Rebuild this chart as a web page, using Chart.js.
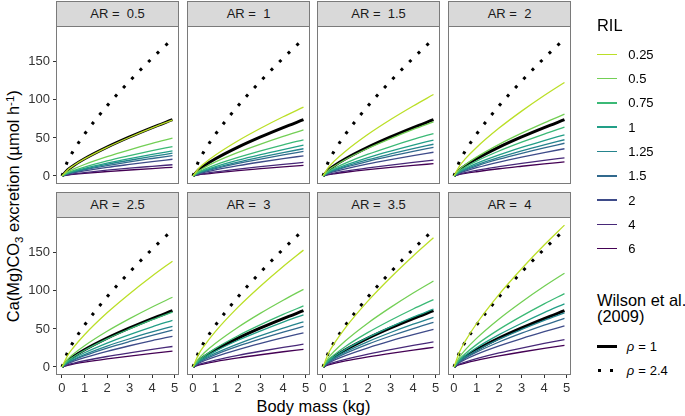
<!DOCTYPE html>
<html>
<head>
<meta charset="utf-8">
<script src="https://cdn.jsdelivr.net/npm/chart.js@4.4.1/dist/chart.umd.min.js"></script>
<style>
  body { margin: 0; width: 685px; height: 416px; position: relative; overflow: hidden; background: #fff;
         font-family: "Liberation Sans", Arial, sans-serif; }
  canvas { position: absolute; }
  .strip { position: absolute; box-sizing: border-box; background: #d9d9d9; border: 1px solid #7a7a7a;
           text-align: center; font-size: 13px; line-height: 24px; color: #1a1a1a; white-space: pre; }
  .txt { position: absolute; white-space: nowrap; }
  .key { position: absolute; }
  #ytitle { position: absolute; width: 300px; text-align: center; font-size: 16.4px; line-height: 16.4px;
            transform: rotate(-90deg); color: #000; }
  #ytitle sub, #ytitle sup { font-size: 70%; vertical-align: 0; position: relative; }
  #ytitle sub { top: 0.35em; }
  #ytitle sup { top: -0.45em; }
</style>
</head>
<body>
<div id="ytitle">Ca(Mg)CO<sub>3</sub> excretion (µmol h<sup>-1</sup>)</div>
<div class="txt" id="xtitle" style="font-size:16.4px;line-height:16.4px;left:0;width:627px;text-align:center;top:398px;">Body mass (kg)</div>
<script>
const massKg = [0, 0.25, 0.5, 1, 2, 3, 4, 4.9];

const arLevels = ["0.5", "1", "1.5", "2", "2.5", "3", "3.5", "4"];
const rilLevels = ["0.25", "0.5", "0.75", "1", "1.25", "1.5", "2", "4", "6"];
const rilColors = ["#BBDF27", "#73CF55", "#3BB976", "#229F87", "#25848D", "#31698D", "#3E4B89", "#472878", "#440154"];

// Wilson et al. (2009) reference curves
const wilsonRho1 = [0, 8.0, 13.5, 22.6, 37.9, 51.3, 63.6, 74.0];
const wilsonRho24 = [0, 19.4, 32.8, 54.9, 92.2, 124.7, 154.8, 180.0];

// one row per RIL level (0.25 ... 6), per aspect ratio panel
const ar05 = [
  [0, 7.9, 13.4, 22.4, 37.6, 50.9, 63.2, 73.5],
  [0, 5.4, 9.0, 15.1, 25.4, 34.4, 42.7, 49.6],
  [0, 4.2, 7.0, 11.8, 19.8, 26.7, 33.2, 38.6],
  [0, 3.6, 6.0, 10.0, 16.8, 22.8, 28.3, 32.9],
  [0, 3.2, 5.4, 9.1, 15.3, 20.7, 25.7, 29.9],
  [0, 2.9, 4.9, 8.2, 13.7, 18.6, 23.0, 26.8],
  [0, 2.4, 4.0, 6.7, 11.3, 15.2, 18.9, 22.0],
  [0, 1.6, 2.7, 4.5, 7.6, 10.3, 12.7, 14.8],
  [0, 1.2, 2.1, 3.5, 5.8, 7.9, 9.8, 11.4]
];
const ar1 = [
  [0, 9.8, 16.5, 27.6, 46.3, 62.7, 77.8, 90.5],
  [0, 6.5, 11.0, 18.5, 31.0, 41.9, 52.0, 60.5],
  [0, 5.1, 8.6, 14.5, 24.3, 32.9, 40.9, 47.5],
  [0, 4.4, 7.4, 12.3, 20.7, 28.0, 34.7, 40.4],
  [0, 3.9, 6.5, 10.9, 18.3, 24.8, 30.8, 35.8],
  [0, 3.5, 5.9, 9.8, 16.5, 22.3, 27.7, 32.2],
  [0, 2.9, 4.8, 8.1, 13.6, 18.4, 22.8, 26.5],
  [0, 1.9, 3.2, 5.4, 9.1, 12.3, 15.3, 17.8],
  [0, 1.5, 2.5, 4.2, 7.1, 9.6, 12.0, 13.9]
];
const ar15 = [
  [0, 11.6, 19.5, 32.6, 54.8, 74.2, 92.0, 107.0],
  [0, 7.7, 12.9, 21.7, 36.4, 49.2, 61.1, 71.0],
  [0, 6.0, 10.2, 17.0, 28.6, 38.7, 48.0, 55.8],
  [0, 5.1, 8.6, 14.4, 24.2, 32.7, 40.6, 47.2],
  [0, 4.5, 7.6, 12.7, 21.4, 28.9, 35.9, 41.7],
  [0, 4.1, 6.8, 11.5, 19.3, 26.1, 32.3, 37.6],
  [0, 3.4, 5.7, 9.5, 16.0, 21.6, 26.8, 31.2],
  [0, 2.2, 3.8, 6.3, 10.6, 14.4, 17.9, 20.8],
  [0, 1.7, 2.9, 4.9, 8.3, 11.2, 13.9, 16.2]
];
const ar2 = [
  [0, 13.3, 22.4, 37.5, 62.9, 85.2, 105.7, 122.9],
  [0, 8.8, 14.8, 24.8, 41.6, 56.3, 69.8, 81.2],
  [0, 6.9, 11.7, 19.6, 32.8, 44.4, 55.1, 64.1],
  [0, 5.8, 9.8, 16.5, 27.7, 37.5, 46.5, 54.1],
  [0, 5.1, 8.7, 14.5, 24.4, 33.0, 40.9, 47.6],
  [0, 4.6, 7.8, 13.1, 22.0, 29.8, 37.0, 43.0],
  [0, 3.9, 6.5, 10.9, 18.3, 24.8, 30.8, 35.8],
  [0, 2.6, 4.3, 7.3, 12.2, 16.6, 20.6, 23.9],
  [0, 2.0, 3.4, 5.6, 9.5, 12.8, 15.9, 18.5]
];
const ar25 = [
  [0, 15.0, 25.3, 42.4, 71.2, 96.3, 119.5, 139.0],
  [0, 9.9, 16.7, 27.9, 46.9, 63.5, 78.8, 91.6],
  [0, 7.8, 13.1, 22.0, 37.0, 50.0, 62.1, 72.2],
  [0, 6.6, 11.2, 18.7, 31.4, 42.5, 52.7, 61.3],
  [0, 5.8, 9.7, 16.3, 27.4, 37.1, 46.0, 53.5],
  [0, 5.2, 8.8, 14.8, 24.8, 33.5, 41.6, 48.4],
  [0, 4.4, 7.3, 12.3, 20.6, 27.9, 34.7, 40.3],
  [0, 2.9, 4.9, 8.2, 13.8, 18.6, 23.1, 26.9],
  [0, 2.2, 3.8, 6.3, 10.6, 14.4, 17.9, 20.8]
];
const ar3 = [
  [0, 16.6, 27.9, 46.8, 78.6, 106.4, 132.0, 153.5],
  [0, 11.0, 18.6, 31.1, 52.2, 70.7, 87.7, 102.0],
  [0, 8.7, 14.6, 24.5, 41.1, 55.6, 69.0, 80.2],
  [0, 7.4, 12.5, 20.9, 35.1, 47.5, 59.0, 68.6],
  [0, 6.4, 10.8, 18.1, 30.4, 41.2, 51.1, 59.4],
  [0, 5.8, 9.7, 16.3, 27.3, 36.9, 45.8, 53.3],
  [0, 4.8, 8.2, 13.7, 22.9, 31.0, 38.5, 44.8],
  [0, 3.2, 5.4, 9.1, 15.3, 20.7, 25.7, 29.9],
  [0, 2.5, 4.2, 7.1, 11.9, 16.1, 20.0, 23.2]
];
const ar35 = [
  [0, 18.3, 30.9, 51.8, 86.9, 117.6, 145.9, 169.7],
  [0, 12.2, 20.6, 34.5, 57.9, 78.3, 97.2, 113.0],
  [0, 9.6, 16.1, 27.0, 45.4, 61.4, 76.2, 88.6],
  [0, 8.2, 13.8, 23.2, 38.9, 52.7, 65.4, 76.0],
  [0, 7.1, 11.9, 19.9, 33.4, 45.3, 56.2, 65.3],
  [0, 6.3, 10.7, 17.9, 30.1, 40.7, 50.5, 58.7],
  [0, 5.3, 9.0, 15.0, 25.2, 34.2, 42.4, 49.3],
  [0, 3.6, 6.0, 10.0, 16.8, 22.8, 28.3, 32.9],
  [0, 2.8, 4.7, 7.9, 13.2, 17.9, 22.2, 25.8]
];
const ar4 = [
  [0, 20.1, 33.9, 56.8, 95.4, 129.1, 160.2, 186.3],
  [0, 13.3, 22.4, 37.6, 63.1, 85.4, 106.0, 123.2],
  [0, 10.4, 17.5, 29.4, 49.4, 66.8, 82.9, 96.4],
  [0, 9.0, 15.1, 25.3, 42.5, 57.5, 71.4, 83.0],
  [0, 7.7, 13.0, 21.7, 36.5, 49.3, 61.2, 71.2],
  [0, 6.9, 11.6, 19.5, 32.8, 44.4, 55.0, 64.0],
  [0, 5.8, 9.8, 16.5, 27.6, 37.4, 46.4, 54.0],
  [0, 3.9, 6.5, 10.9, 18.4, 24.9, 30.9, 35.9],
  [0, 3.1, 5.2, 8.7, 14.5, 19.7, 24.4, 28.4]
];

const xTicks = [0, 1, 2, 3, 4, 5];
const yTicks = [0, 50, 100, 150];

const panels = [ar05, ar1, ar15, ar2, ar25, ar3, ar35, ar4];

// layout (px)
const colLeft = [57, 188, 318, 449];
const rowTop = [27, 218];
const stripTop = [1, 192];
const PW = 121, PH = 156, PAD = 8, YAXW = 49, XAXH = 28;

Chart.defaults.font.family = '"Liberation Sans", Arial, sans-serif';

const panelBorder = {
  id: 'panelBorder',
  afterDatasetsDraw(chart) {
    const { ctx, chartArea: a } = chart;
    ctx.save();
    ctx.strokeStyle = '#7a7a7a';
    ctx.lineWidth = 1;
    ctx.strokeRect(a.left - 0.5, a.top - 0.5, a.right - a.left + 1, a.bottom - a.top + 1);
    ctx.restore();
  }
};

function axisOpts(show, min, max, ticks, isX) {
  return {
    type: 'linear',
    display: show,
    min: min,
    max: max,
    afterBuildTicks: s => { s.ticks = ticks.map(v => ({ value: v })); },
    afterFit: s => {
      if (isX) { s.height = show ? XAXH : 0; s.paddingLeft = 0; s.paddingRight = 0; }
      else { s.width = show ? YAXW : 0; s.paddingTop = 0; s.paddingBottom = 0; }
    },
    border: { display: false },
    grid: { drawOnChartArea: false, drawTicks: true, tickLength: 4, color: '#333333' },
    ticks: { padding: 3, color: '#333333', font: { size: 13 }, maxRotation: 0, autoSkip: false }
  };
}

panels.forEach((lines, k) => {
  const col = k % 4, row = Math.floor(k / 4);
  const showY = col === 0, showX = row === 1;

  const cv = document.createElement('canvas');
  cv.width = PW + 2 * PAD + (showY ? YAXW : 0);
  cv.height = PH + 2 * PAD + (showX ? XAXH : 0);
  cv.style.left = (colLeft[col] - PAD - (showY ? YAXW : 0)) + 'px';
  cv.style.top = (rowTop[row] - PAD) + 'px';
  document.body.appendChild(cv);

  const datasets = lines.map((ys, i) => ({
    label: 'RIL ' + rilLevels[i],
    data: massKg.map((x, j) => ({ x: x, y: ys[j] })),
    borderColor: rilColors[i],
    borderWidth: 1.3,
    pointRadius: 0,
    cubicInterpolationMode: 'monotone',
    fill: false
  }));
  datasets.push({
    label: 'rho = 1',
    data: massKg.map((x, j) => ({ x: x, y: wilsonRho1[j] })),
    borderColor: '#000',
    borderWidth: 3,
    pointRadius: 0,
    cubicInterpolationMode: 'monotone',
    fill: false
  });
  datasets.push({
    label: 'rho = 2.4',
    data: massKg.map((x, j) => ({ x: x, y: wilsonRho24[j] })),
    borderColor: '#000',
    borderWidth: 3,
    borderDash: [3, 9],
    borderCapStyle: 'butt',
    pointRadius: 0,
    cubicInterpolationMode: 'monotone',
    fill: false
  });

  new Chart(cv, {
    type: 'line',
    data: { datasets },
    options: {
      responsive: false,
      animation: false,
      events: [],
      layout: { padding: PAD },
      plugins: { legend: { display: false }, tooltip: { enabled: false } },
      scales: {
        x: axisOpts(showX, -0.22, 5.145, xTicks, true),
        y: axisOpts(showY, -9.2, 195.7, yTicks, false)
      }
    },
    plugins: [panelBorder]
  });

  const strip = document.createElement('div');
  strip.className = 'strip';
  strip.style.left = (colLeft[col] - 1) + 'px';
  strip.style.top = stripTop[row] + 'px';
  strip.style.width = (PW + 2) + 'px';
  strip.style.height = '26px';
  strip.textContent = 'AR =  ' + arLevels[k];
  document.body.appendChild(strip);
});

// y axis title position
const yt = document.getElementById('ytitle');
yt.style.left = (13.5 - 150) + 'px';
yt.style.top = (205 - 8.2) + 'px';

// legend
function addText(html, left, cy, size) {
  const d = document.createElement('div');
  d.className = 'txt';
  d.style.left = left + 'px';
  d.style.top = (cy - size / 2) + 'px';
  d.style.fontSize = size + 'px';
  d.style.lineHeight = size + 'px';
  d.innerHTML = html;
  document.body.appendChild(d);
  return d;
}
function addKey(left, cy, w, h, bg) {
  const d = document.createElement('div');
  d.className = 'key';
  d.style.left = left + 'px';
  d.style.top = (cy - h / 2) + 'px';
  d.style.width = w + 'px';
  d.style.height = h + 'px';
  d.style.background = bg;
  document.body.appendChild(d);
}

addText('RIL', 597, 25.2, 16.4);
rilLevels.forEach((lab, i) => {
  const cy = 54.3 + 24.3 * i;
  addKey(597, cy, 20, 1.5, rilColors[i]);
  addText(lab, 628.3, cy, 13);
});

const wt = addText('Wilson et al.<br>(2009)', 597, 300, 16.4);
wt.style.lineHeight = '16px';
wt.style.top = '292px';

addKey(597, 346.7, 20, 3, '#000');
addText('<i>ρ</i><span style="margin:0 4px">=</span>1', 626.7, 346.7, 13);
addKey(597.5, 370.7, 16, 3, 'repeating-linear-gradient(90deg,#000 0 3px,transparent 3px 12px)');
addText('<i>ρ</i><span style="margin:0 4px">=</span>2.4', 626.7, 370.7, 13);
</script>
</body>
</html>
